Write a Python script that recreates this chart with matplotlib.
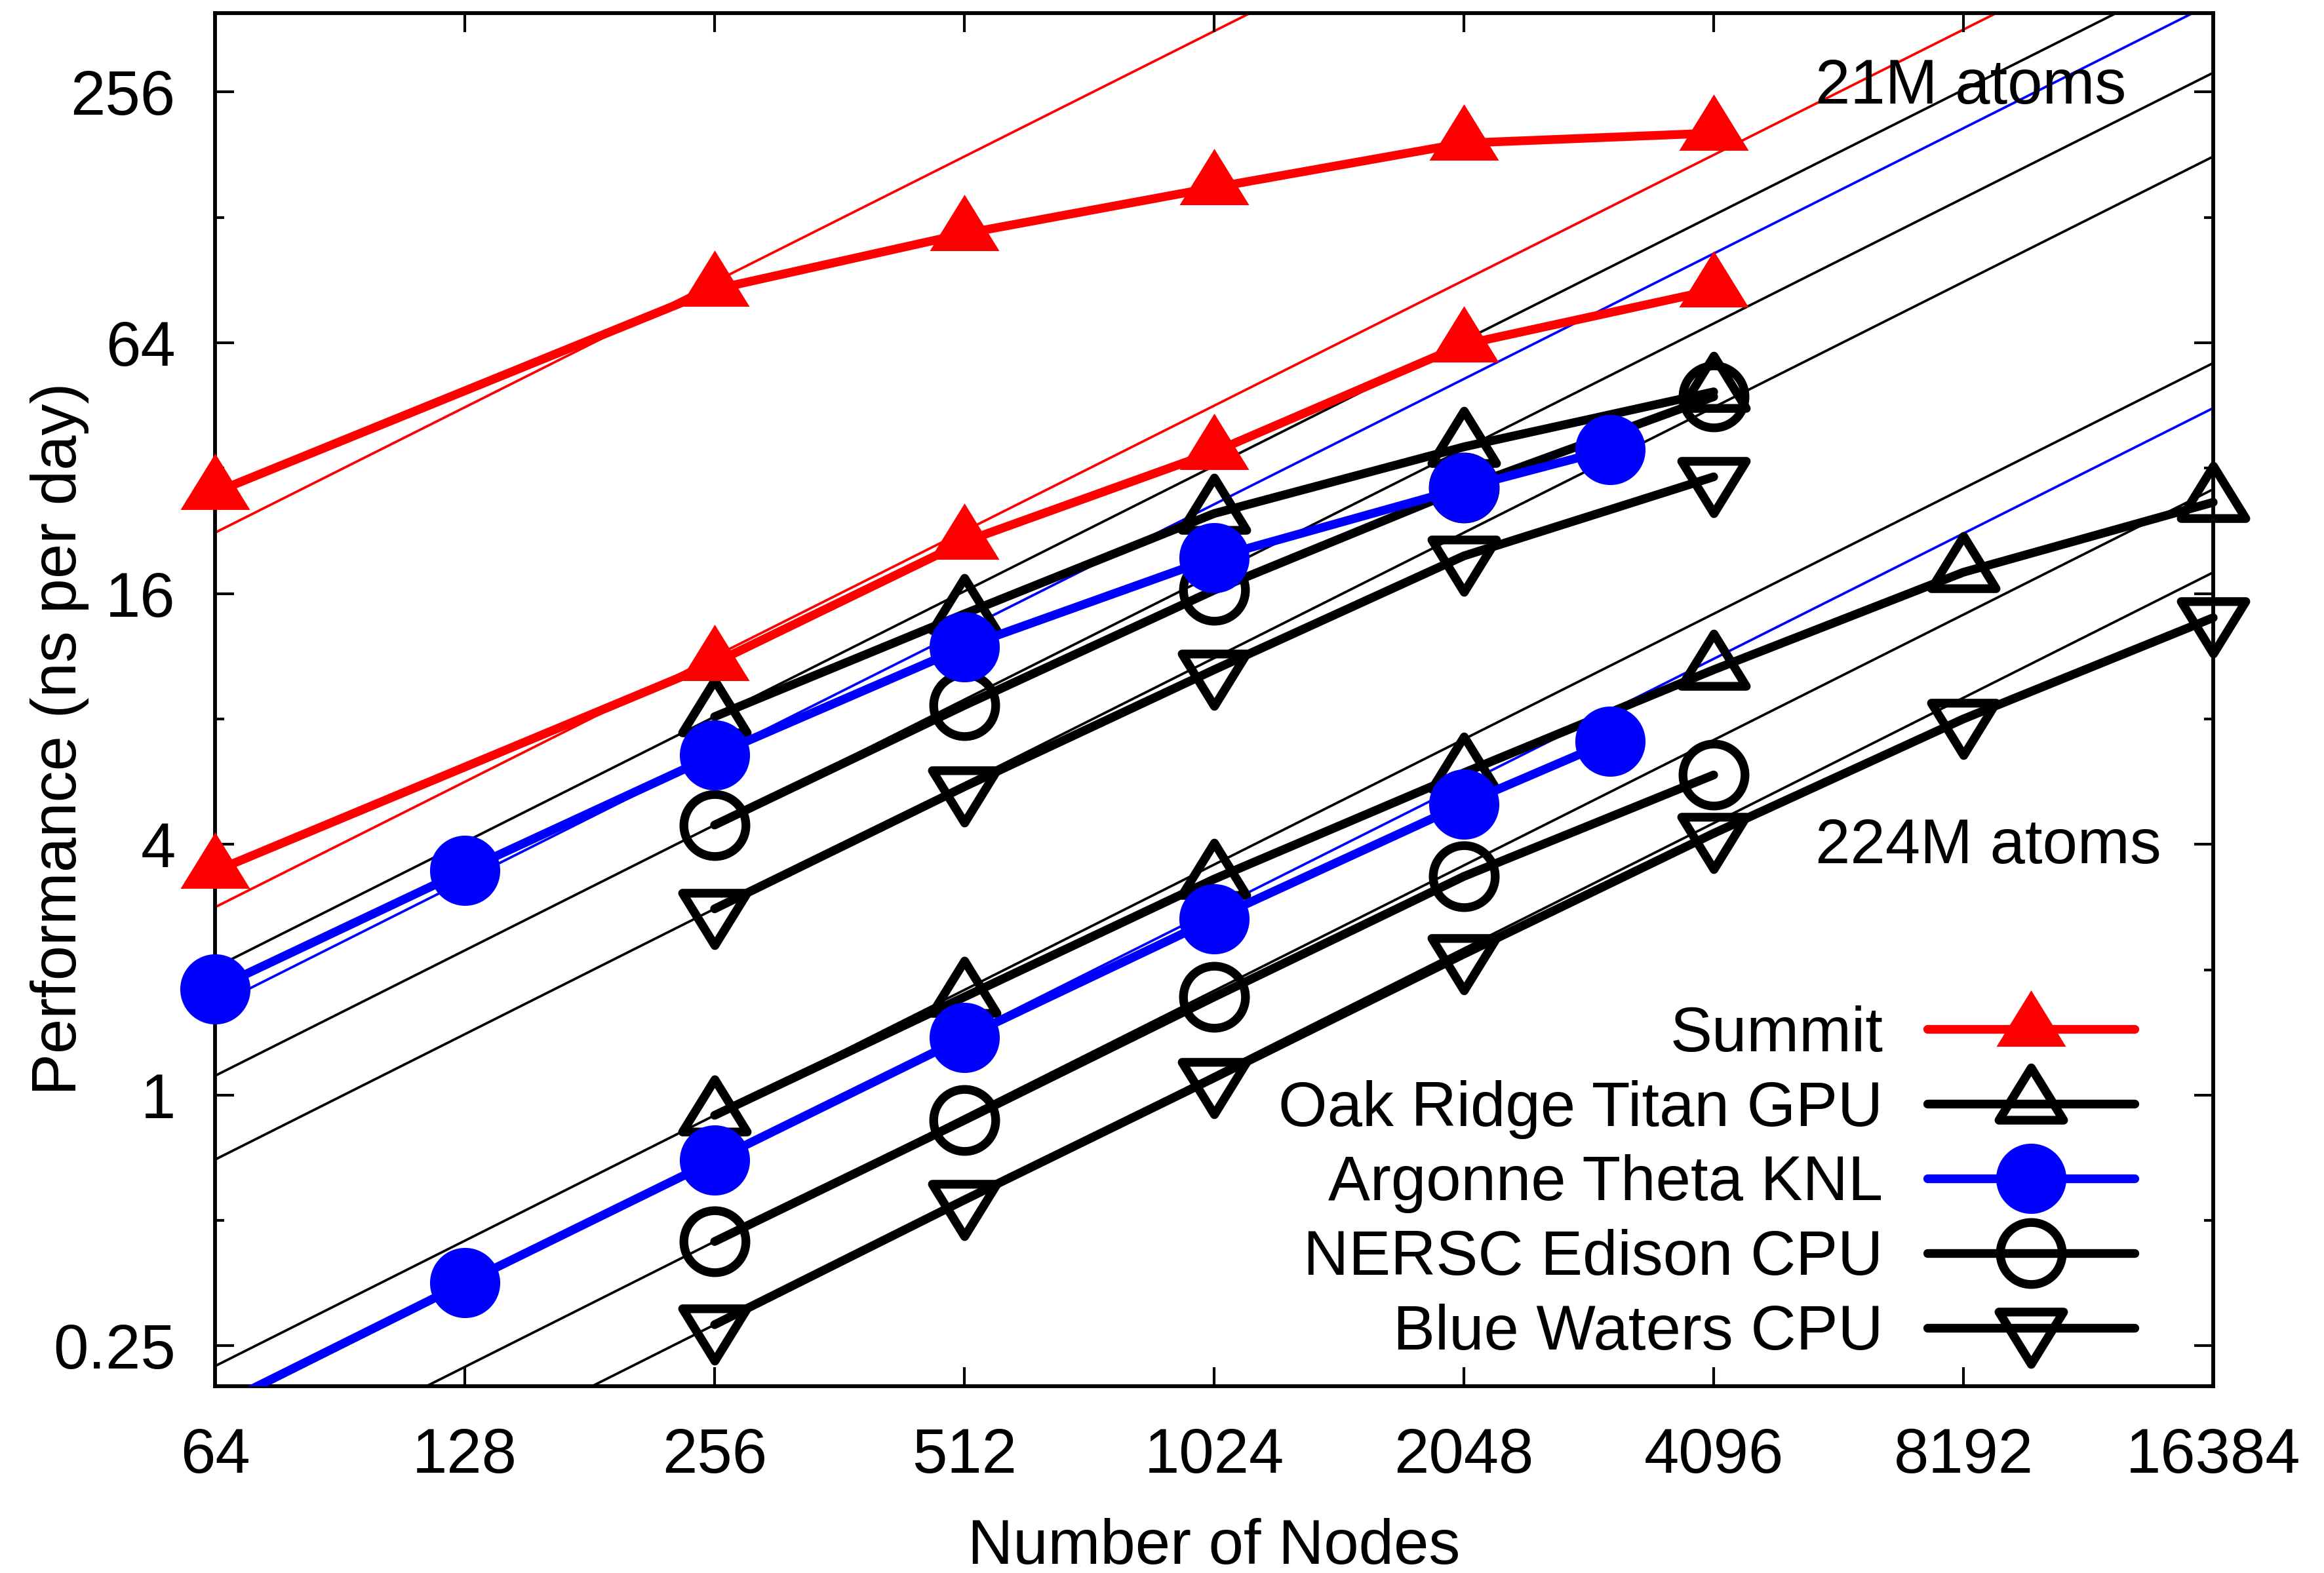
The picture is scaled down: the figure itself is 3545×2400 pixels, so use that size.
import matplotlib
matplotlib.use("Agg")
import matplotlib.pyplot as plt
from matplotlib.path import Path
from matplotlib.ticker import NullLocator

plt.rcParams['font.family'] = ['Liberation Sans', 'DejaVu Sans']
plt.rcParams['font.size'] = 23

# --- data (ns per day vs number of nodes) ---
# 21M atoms
summit_21m_x = [64, 256, 512, 1024, 2048, 4096]
summit_21m_y = [28.0, 86.0, 117.0, 151.0, 193.0, 204.0]
titan_21m_x = [256, 512, 1024, 2048, 4096]
titan_21m_y = [8.1, 14.3, 24.9, 36.0, 48.8]
theta_21m_x = [64, 128, 256, 512, 1024, 2048, 3072]
theta_21m_y = [1.8, 3.46, 6.55, 11.9, 19.5, 28.7, 35.5]
edison_21m_x = [256, 512, 1024, 2048, 4096]
edison_21m_y = [4.45, 8.62, 16.3, 28.7, 47.5]
bw_21m_x = [256, 512, 1024, 2048, 4096]
bw_21m_y = [2.8, 5.5, 10.5, 19.7, 30.5]

# 224M atoms
summit_224m_x = [64, 256, 512, 1024, 2048, 4096]
summit_224m_y = [3.45, 10.9, 21.3, 35.0, 63.4, 85.7]
titan_224m_x = [256, 512, 1024, 2048, 4096, 8192, 16384]
titan_224m_y = [0.894, 1.72, 3.3, 5.94, 10.5, 18.0, 26.5]
theta_224m_x = [64, 128, 256, 512, 1024, 2048, 3072]
theta_224m_y = [0.178, 0.354, 0.697, 1.375, 2.65, 5.0, 7.07]
edison_224m_x = [256, 512, 1024, 2048, 4096]
edison_224m_y = [0.445, 0.87, 1.72, 3.35, 5.87]
bw_224m_x = [256, 512, 1024, 2048, 4096, 8192, 16384]
bw_224m_y = [0.281, 0.56, 1.1, 2.18, 4.25, 8.0, 14.0]

# ideal (linear) scaling lines, given by their value at 256 nodes
ideal_ref_256 = [89.6, 8.1, 6.55, 4.45, 2.8, 11.3, 0.894, 0.697, 0.445, 0.281]
ideal_colors = ['red', 'black', 'blue', 'black', 'black',
                'red', 'black', 'blue', 'black', 'black']
ideal_x = [64, 16384]

xticks = [64, 128, 256, 512, 1024, 2048, 4096, 8192, 16384]
yticks = [0.25, 1, 4, 16, 64, 256]
yticks_minor = [0.5, 2, 8, 32, 128]

# gnuplot-like triangles (point sits 2/3 down from the apex)
tri_up = Path([(0, 1.12), (-1, -0.5), (1, -0.5), (0, 0)],
              [Path.MOVETO, Path.LINETO, Path.LINETO, Path.CLOSEPOLY])
tri_down = Path([(0, -1.12), (-1, 0.5), (1, 0.5), (0, 0)],
                [Path.MOVETO, Path.LINETO, Path.LINETO, Path.CLOSEPOLY])

LW = 3.2


def draw_series(ax, x, y, color, marker, ms, filled, label=None, **kw):
    """trace une serie avec le style gnuplot (ligne epaisse + gros symbole)"""
    style = dict(color=color, lw=LW, marker=marker, ms=ms,
                 solid_capstyle='round', solid_joinstyle='round')
    if filled:
        style.update(mfc=color, mec=color, mew=0)
    else:
        style.update(mfc='none', mec=color, mew=LW)
    style.update(kw)
    return ax.plot(x, y, label=label, **style)[0]


fig, ax = plt.subplots(figsize=(3545 / 300, 2400 / 300), dpi=300)
fig.subplots_adjust(left=328 / 3545, right=3376 / 3545,
                    bottom=1 - 2115 / 2400, top=1 - 20 / 2400)

ax.set_xscale('log', base=2)
ax.set_yscale('log', base=2)

# ideal scaling
for ref, col in zip(ideal_ref_256, ideal_colors):
    ax.plot(ideal_x, [ref * x / 256 for x in ideal_x], color=col, lw=0.9, zorder=1)

# 21M atoms
h_summit = draw_series(ax, summit_21m_x, summit_21m_y, 'red', tri_up, 28.5, True, 'Summit',
                       zorder=3, clip_on=False)
h_titan = draw_series(ax, titan_21m_x, titan_21m_y, 'black', tri_up, 26.5, False,
                      'Oak Ridge Titan GPU', zorder=3, clip_on=False)
h_edison = draw_series(ax, edison_21m_x, edison_21m_y, 'black', 'o', 22.7, False,
                       'NERSC Edison CPU', zorder=3, clip_on=False)
h_bw = draw_series(ax, bw_21m_x, bw_21m_y, 'black', tri_down, 26.5, False, 'Blue Waters CPU',
                   zorder=3, clip_on=False)
h_theta = draw_series(ax, theta_21m_x, theta_21m_y, 'blue', 'o', 25.7, True, 'Argonne Theta KNL',
                      zorder=4, clip_on=False)

# 224M atoms
draw_series(ax, summit_224m_x, summit_224m_y, 'red', tri_up, 28.5, True, zorder=3, clip_on=False)
draw_series(ax, titan_224m_x, titan_224m_y, 'black', tri_up, 26.5, False, zorder=3, clip_on=False)
draw_series(ax, edison_224m_x, edison_224m_y, 'black', 'o', 22.7, False, zorder=3, clip_on=False)
draw_series(ax, bw_224m_x, bw_224m_y, 'black', tri_down, 26.5, False, zorder=3, clip_on=False)
draw_series(ax, theta_224m_x, theta_224m_y, 'blue', 'o', 25.7, True, zorder=4,
            markevery=list(range(1, len(theta_224m_x))))

ax.set_xlim(64, 16384)
ax.set_ylim(0.2, 396)

ax.set_xticks(xticks)
ax.set_xticklabels([str(v) for v in xticks])
ax.xaxis.set_minor_locator(NullLocator())
ax.set_yticks(yticks)
ax.set_yticklabels(['0.25', '1', '4', '16', '64', '256'])
ax.set_yticks(yticks_minor, minor=True)
ax.yaxis.set_minor_formatter(plt.NullFormatter())

ax.tick_params(which='both', direction='in', top=True, right=True, width=1.0)
ax.tick_params(which='major', length=7)
ax.tick_params(which='minor', length=3.3)
ax.tick_params(axis='x', pad=15)
ax.tick_params(axis='y', pad=14.5)
for sp in ax.spines.values():
    sp.set_linewidth(1.4)

ax.set_xlabel('Number of Nodes')
ax.set_ylabel('Performance (ns per day)')
ax.xaxis.set_label_coords(0.5, -0.096)
ax.yaxis.set_label_coords(-0.063, 0.4716)

ax.text(0.801, 0.934, '21M atoms', transform=ax.transAxes, ha='left', va='baseline')
ax.text(0.801, 0.381, '224M atoms', transform=ax.transAxes, ha='left', va='baseline')

ax.legend(handles=[h_summit, h_titan, h_theta, h_edison, h_bw],
          loc='lower right', bbox_to_anchor=(0.9606, 0.017), frameon=False,
          markerfirst=False, handlelength=3.3, handletextpad=0.7, labelspacing=0.25,
          borderpad=0, borderaxespad=0, numpoints=1)

fig.savefig('out.png', dpi=300)
